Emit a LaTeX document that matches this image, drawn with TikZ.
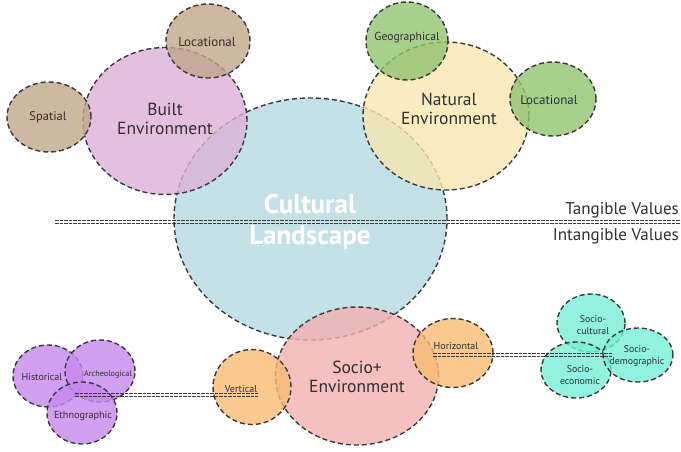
\documentclass[tikz,border=0pt]{standalone}
\usepackage{fontspec}
\setmainfont{PT Sans}
\usetikzlibrary{shapes.geometric}
\definecolor{bord}{HTML}{3A3A3A}
\definecolor{txt}{HTML}{2F2F2F}
\definecolor{cCult}{HTML}{B6DAE2}
\definecolor{cBuilt}{HTML}{DDB0D7}
\definecolor{cBrown}{HTML}{C0A68B}
\definecolor{cNat}{HTML}{F6E7B0}
\definecolor{cGreen}{HTML}{92C471}
\definecolor{cSoc}{HTML}{F3B0B0}
\definecolor{cOrange}{HTML}{F7BB72}
\definecolor{cPurple}{HTML}{C688EC}
\definecolor{cCyan}{HTML}{78EFD7}
\tikzset{
  bub/.style={ellipse, draw=bord, line width=1.4pt, dash pattern=on 5pt off 3pt,
    fill opacity=0.8, inner sep=0pt},
  lab/.style={text=txt, align=center, inner sep=0pt},
  dline/.style={draw=bord, line width=0.8pt, dash pattern=on 3.5pt off 1pt},
}
\begin{document}
\begin{tikzpicture}[x=1pt,y=1pt]
\useasboundingbox (0,0) rectangle (681,-451);
% bubbles
\node[bub, fill=cCult, minimum width=273, minimum height=242] (cult) at (310.5,-219) {};
\node[bub, fill=cBuilt, minimum width=164, minimum height=147] (built) at (165,-121) {};
\node[bub, fill=cBrown, minimum width=84, minimum height=74] (loc1) at (208,-41) {};
\node[bub, fill=cBrown, minimum width=84, minimum height=70] (spat) at (49,-117) {};
\node[bub, fill=cNat, minimum width=166, minimum height=148] (nat) at (446,-116) {};
\node[bub, fill=cGreen, minimum width=82, minimum height=78] (geo) at (407,-41) {};
\node[bub, fill=cGreen, minimum width=86, minimum height=74] (loc2) at (553,-99) {};
\node[bub, fill=cSoc, minimum width=163, minimum height=138] (soc) at (357,-376) {};
\node[bub, fill=cOrange, minimum width=78, minimum height=75] (vert) at (252,-387) {};
\node[bub, fill=cOrange, minimum width=80, minimum height=69] (hor) at (453,-353) {};
\node[bub, fill=cPurple, minimum width=70, minimum height=62] (hist) at (48,-376) {};
\node[bub, fill=cPurple, minimum width=70, minimum height=62] (arch) at (100,-371) {};
\node[bub, fill=cPurple, minimum width=70, minimum height=62] (eth) at (82,-413) {};
\node[bub, fill=cCyan, minimum width=68, minimum height=58] (scult) at (591,-323) {};
\node[bub, fill=cCyan, minimum width=70, minimum height=56] (secon) at (576,-370) {};
\node[bub, fill=cCyan, minimum width=70, minimum height=54] (sdemo) at (638,-355) {};
% dividing line
\coordinate (tl) at (55,-222);
\coordinate (tr) at (681,-222);
\draw[dline] ([yshift=1.4pt]tl) -- ([yshift=1.4pt]tr);
\draw[dline] ([yshift=-1.4pt]tl) -- ([yshift=-1.4pt]tr);
% link lines
\coordinate (pl) at (75,-395);
\coordinate (vl) at (258,-395);
\draw[dline] ([yshift=1.4pt]pl) -- ([yshift=1.4pt]vl);
\draw[dline] ([yshift=-1.4pt]pl) -- ([yshift=-1.4pt]vl);
\coordinate (hl) at (433,-355);
\coordinate (cl) at (612,-355);
\draw[dline] ([yshift=1.4pt]hl) -- ([yshift=1.4pt]cl);
\draw[dline] ([yshift=-1.4pt]hl) -- ([yshift=-1.4pt]cl);
% labels
\node[lab, text=white, font=\fontsize{27}{31}\selectfont\bfseries] (cult-t) at (310,-222) {Cultural\\Landscape};
\node[lab, font=\fontsize{17.5}{19}\selectfont] (built-t) at (165,-119) {Built\\Environment};
\node[lab, font=\fontsize{17.5}{19}\selectfont] (nat-t) at (449,-109) {Natural\\Environment};
\node[lab, font=\fontsize{17.5}{19.5}\selectfont] (soc-t) at (357,-377) {Socio+\\Environment};
\node[lab, font=\fontsize{13}{14}\selectfont] (loc1-t) at (207,-42) {Locational};
\node[lab, font=\fontsize{12.5}{14}\selectfont] (spat-t) at (48,-117) {Spatial};
\node[lab, font=\fontsize{11.6}{14}\selectfont] (geo-t) at (407,-38) {Geographical};
\node[lab, font=\fontsize{13}{14}\selectfont] (loc2-t) at (549,-100) {Locational};
\node[lab, font=\fontsize{10}{12}\selectfont] (vert-t) at (241,-389) {Vertical};
\node[lab, font=\fontsize{10}{12}\selectfont] (hor-t) at (456,-346) {Horizontal};
\node[lab, font=\fontsize{10}{12}\selectfont] (hist-t) at (42,-377) {Historical};
\node[lab, font=\fontsize{8.2}{10}\selectfont] (arch-t) at (108,-374) {Archeological};
\node[lab, font=\fontsize{10.2}{12}\selectfont] (eth-t) at (83,-416) {Ethnographic};
\node[lab, font=\fontsize{9.8}{11.5}\selectfont] (scult-t) at (593,-325) {Socio-\\cultural};
\node[lab, font=\fontsize{9.8}{11.5}\selectfont] (sdemo-t) at (637,-356) {Socio-\\demographic};
\node[lab, font=\fontsize{9.8}{11.5}\selectfont] (secon-t) at (580,-375) {Socio-\\economic};
\node[lab, anchor=east, font=\fontsize{17}{20}\selectfont] (tang) at (679,-210) {Tangible Values};
\node[lab, anchor=east, font=\fontsize{17}{20}\selectfont] (intang) at (679,-236) {Intangible Values};
\end{tikzpicture}
\end{document}
